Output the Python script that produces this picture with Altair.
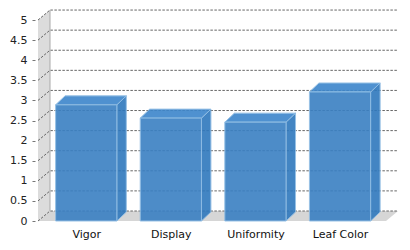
import json
import altair as alt
import pandas as pd

# ---- data ----
categories = ["Vigor", "Display", "Uniformity", "Leaf Color"]
values = [2.89, 2.56, 2.46, 3.21]
y_ticks = [0, 0.5, 1, 1.5, 2, 2.5, 3, 3.5, 4, 4.5, 5]

# ---- layout / style constants ----
W, H = 360, 211
Y_MAX = 5.25
PX_Y = H / Y_MAX
STEP = 84.6            # px per category
X_MIN = -0.57
X_MAX = X_MIN + W / STEP
WALL_DX = 12 / STEP
WALL_DY = 10 / PX_Y
HALF = 30.6 / STEP
BAR_DX = 9.5 / STEP
BAR_DY = 9 / PX_Y
FONT = "DejaVu Sans"

xs = alt.Scale(domain=[X_MIN, X_MAX], nice=False, zero=False)
ys = alt.Scale(domain=[0, Y_MAX], nice=False, zero=False)

label_expr = json.dumps(categories) + "[datum.value]"

XA = alt.Axis(
    values=list(range(len(categories))), labelExpr=label_expr,
    domain=False, ticks=False, grid=False, labelFont=FONT,
    labelFontSize=11, labelColor="#111", labelPadding=7, title=None)
YA = alt.Axis(
    values=y_ticks, format="~g", domain=False, grid=False,
    tickSize=3, tickColor="#777", offset=3, labelPadding=5,
    labelFont=FONT, labelFontSize=11, labelColor="#222", title=None)


def X(f="x"):
    return alt.X(f + ":Q", scale=xs, axis=XA)


def Y(f="y"):
    return alt.Y(f + ":Q", scale=ys, axis=YA)


# left wall
wall_df = pd.DataFrame({
    "x": [X_MIN, X_MIN + WALL_DX],
    "y": [y_ticks[-1], y_ticks[-1] + WALL_DY],
    "y2": [0, WALL_DY],
})
wall = alt.Chart(wall_df).mark_area(color="#dcdcdc").encode(x=X(), y=Y(), y2="y2:Q")

# floor
floor_df = pd.DataFrame({
    "y": [0, WALL_DY],
    "x": [X_MIN, X_MIN + WALL_DX],
    "x2": [X_MAX - WALL_DX, X_MAX],
})
floor = alt.Chart(floor_df).mark_area(color="#d6d6d6", orient="horizontal").encode(
    y=Y(), x=X(), x2="x2:Q")

# grid lines (diagonal on wall + horizontal on back wall)
grid_rows = []
for t in y_ticks:
    grid_rows.append({"tick": t, "o": 0, "x": X_MIN, "y": t})
    grid_rows.append({"tick": t, "o": 1, "x": X_MIN + WALL_DX, "y": t + WALL_DY})
    grid_rows.append({"tick": t, "o": 2, "x": X_MAX, "y": t + WALL_DY})
grid = alt.Chart(pd.DataFrame(grid_rows)).mark_line(
    color="#666", strokeWidth=1, strokeDash=[2.5, 1.5]
).encode(x=X(), y=Y(), detail="tick:N", order="o:Q")

edge_df = pd.DataFrame({"x": [X_MIN + WALL_DX], "y": [WALL_DY], "y2": [y_ticks[-1] + WALL_DY]})
edge = alt.Chart(edge_df).mark_rule(color="#aaaaaa", strokeWidth=1).encode(
    x=X(), y=Y(), y2="y2:Q")

# bars
front_rows, side_rows, top_rows = [], [], []
for i, (c, v) in enumerate(zip(categories, values)):
    front_rows.append({"cat": c, "x": i - HALF, "x2": i + HALF, "y": 0, "y2": v})
    side_rows.append({"cat": c, "x": i + HALF, "y": v, "y2": 0})
    side_rows.append({"cat": c, "x": i + HALF + BAR_DX, "y": v + BAR_DY, "y2": BAR_DY})
    top_rows.append({"cat": c, "y": v, "x": i - HALF, "x2": i + HALF})
    top_rows.append({"cat": c, "y": v + BAR_DY, "x": i - HALF + BAR_DX, "x2": i + HALF + BAR_DX})

STROKE = "#8dbbe3"
side = alt.Chart(pd.DataFrame(side_rows)).mark_area(
    color="#2f78bd", opacity=0.9, stroke=STROKE, strokeWidth=1
).encode(x=X(), y=Y(), y2="y2:Q", detail="cat:N")
top = alt.Chart(pd.DataFrame(top_rows)).mark_area(
    color="#3d86cb", opacity=0.9, stroke=STROKE, strokeWidth=1, orient="horizontal"
).encode(y=Y(), x=X(), x2="x2:Q", detail="cat:N")
front = alt.Chart(pd.DataFrame(front_rows)).mark_rect(
    color="#3a80c3", opacity=0.9, stroke=STROKE, strokeWidth=1
).encode(x=X(), x2="x2:Q", y=Y(), y2="y2:Q")

chart = alt.layer(wall, floor, grid, edge, side, top, front).properties(
    width=W, height=H,
    padding={"left": 38, "top": 10, "right": 12, "bottom": 29},
    autosize=alt.AutoSizeParams(type="none"),
    background="white",
).configure_view(stroke=None)

chart.save("out.html", embed_options={"renderer": "svg", "actions": False})
